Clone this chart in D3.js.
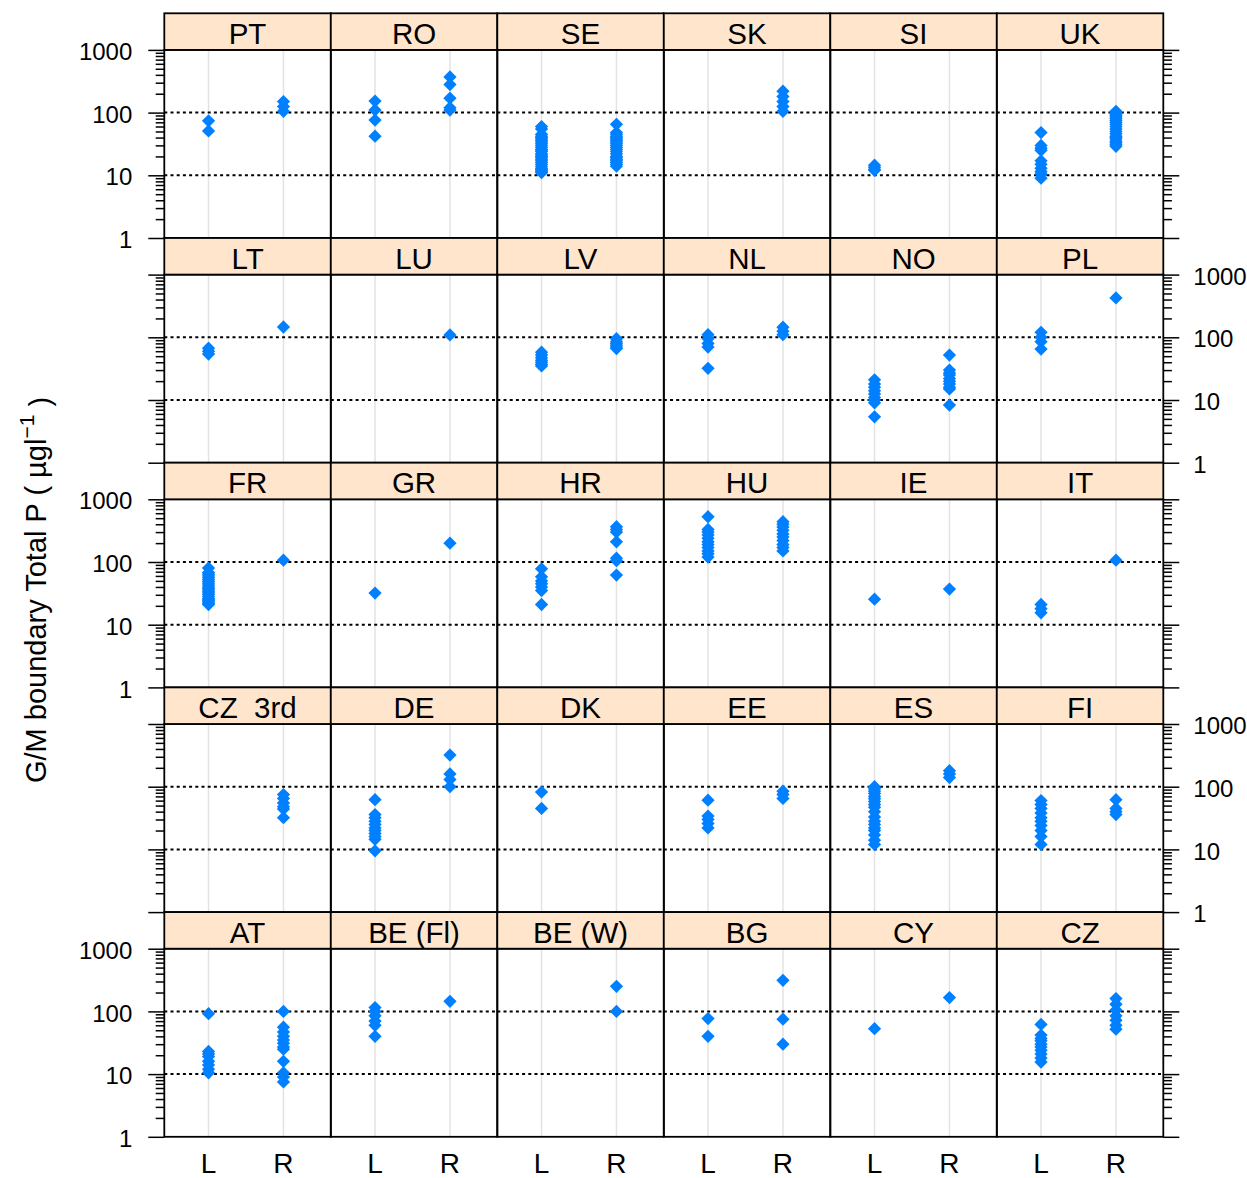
<!DOCTYPE html>
<html><head><meta charset="utf-8">
<script src="https://cdn.jsdelivr.net/npm/d3@7"></script>
<style>
body{margin:0;background:#fff;overflow:hidden}
text{font-family:"Liberation Sans", Arial, sans-serif;fill:#000}
</style>
</head><body>
<svg id="c" width="1247" height="1178"></svg>
<script>
// ---------- data ----------
const countries = ["PT","RO","SE","SK","SI","UK",
                   "LT","LU","LV","NL","NO","PL",
                   "FR","GR","HR","HU","IE","IT",
                   "CZ  3rd","DE","DK","EE","ES","FI",
                   "AT","BE (Fl)","BE (W)","BG","CY","CZ"];
const groups = ["L","R"];
const valuesL = [
  [74, 51],
  [153, 110, 76, 42],
  [60, 55, 45, 42, 40, 38, 36, 34, 32, 30, 28, 26, 25, 24, 22, 21, 20, 19, 18, 17, 16, 15, 14, 13, 12.5, 12, 11.5, 11],
  [],
  [14.5, 13.5, 12.5, 12],
  [48, 30, 27, 25, 17, 15, 13, 11.5, 10.5, 9],
  [67, 60, 54],
  [],
  [58, 52, 47, 43, 40, 37, 35],
  [110, 95, 80, 70, 32],
  [21, 18, 16, 14, 12.5, 11, 10, 9, 5.4],
  [120, 100, 85, 65],
  [80, 68, 64, 60, 56, 52, 49, 46, 43, 40, 38, 36, 34, 32, 30, 28, 26, 25, 24, 23, 22, 21],
  [32],
  [78, 58, 50, 45, 40, 35, 21],
  [527, 330, 300, 270, 240, 210, 190, 170, 150, 135, 120],
  [25.5],
  [21, 18, 15.5],
  [],
  [62, 36, 32, 28, 25, 22, 20, 18, 16, 14.5, 9.5],
  [82, 45],
  [61, 34, 30, 26, 22],
  [100, 92, 85, 78, 70, 64, 58, 52, 47, 40, 33, 28, 25, 22, 20, 17, 14, 12],
  [60, 52, 45, 38, 32, 28, 24, 20, 16, 12],
  [92, 23, 21, 19, 16, 14, 12, 10.5],
  [115, 100, 85, 70, 60, 40],
  [],
  [77, 40],
  [53],
  [62, 42, 37, 34, 30, 27, 24, 21, 18, 15.6]
];
const valuesR = [
  [150, 125, 105],
  [370, 280, 170, 120, 110],
  [65, 48, 45, 42, 40, 38, 36, 34, 32, 30, 28, 26, 24, 22, 20, 19, 18, 17, 16, 15, 14],
  [220, 180, 150, 125, 105],
  [],
  [105, 100, 95, 90, 85, 80, 75, 70, 65, 60, 55, 50, 46, 42, 40, 38, 35, 33, 31, 29],
  [146],
  [109],
  [95, 85, 80, 75, 70, 66],
  [145, 125, 110],
  [52, 30, 27, 25, 22, 20, 18, 16, 15, 8.3],
  [425],
  [107],
  [200],
  [365, 330, 300, 210, 115, 105, 62],
  [440, 400, 360, 320, 280, 250, 220, 190, 170, 150],
  [37],
  [107],
  [75, 65, 55, 48, 44, 32],
  [320, 160, 130, 100],
  [],
  [85, 75, 65],
  [180, 160, 140],
  [62, 45, 40, 36],
  [100, 56, 47, 40, 35, 31, 27, 25, 16, 10.5, 9, 7.5],
  [145],
  [251, 100],
  [313, 75, 30],
  [166],
  [160, 130, 105, 85, 72, 60, 52]
];
const yTickValues = [1, 10, 100, 1000];
const yTickLabels = ["1", "10", "100", "1000"];
const refLines = [10, 100];

// ---------- layout ----------
const nCols = 6, nRows = 5;
const x0 = 164.3, colW = 166.5;
const y0 = 13.3, rowPitch = 224.7, stripH = 36.6, panelH = rowPitch - stripH;
const ptColor = "#0080ff";

const svg = d3.select("#c");
const y = d3.scaleLog().domain([1, 1000]).range([panelH, 0]);
const x = d3.scalePoint().domain(groups).range([0, colW]).padding(0.611).align(0.483);
const minorTicks = y.ticks().filter(v => !yTickValues.includes(v));
const diamond = d3.symbol().type(d3.symbolSquare).size(88);

countries.forEach((name, i) => {
  const r = Math.floor(i / nCols), c = i % nCols;
  const px = x0 + c * colW;
  const sy = y0 + r * rowPitch;
  const py = sy + stripH;
  const g = svg.append("g").attr("transform", `translate(${px},${py})`);

  // vertical grid
  g.selectAll("line.grid").data(groups).join("line")
    .attr("x1", d => x(d)).attr("x2", d => x(d))
    .attr("y1", 0).attr("y2", panelH)
    .attr("stroke", "#e3e3e3").attr("stroke-width", 1.5);
  // reference dotted lines
  g.selectAll("line.ref").data(refLines).join("line")
    .attr("x1", 0).attr("x2", colW)
    .attr("y1", d => y(d)).attr("y2", d => y(d))
    .attr("stroke", "#000").attr("stroke-width", 2)
    .attr("stroke-dasharray", "3,3.2");
  // points
  const pts = [];
  valuesL[i].forEach(v => pts.push({g: "L", v}));
  valuesR[i].forEach(v => pts.push({g: "R", v}));
  g.selectAll("path.pt").data(pts).join("path")
    .attr("d", diamond)
    .attr("transform", d => `translate(${x(d.g)},${y(d.v)}) rotate(45)`)
    .attr("fill", ptColor);
  // border
  g.append("rect").attr("x", 0).attr("y", 0).attr("width", colW).attr("height", panelH)
    .attr("fill", "none").attr("stroke", "#000").attr("stroke-width", 1.8);

  // strip
  const s = svg.append("g").attr("transform", `translate(${px},${sy})`);
  s.append("rect").attr("width", colW).attr("height", stripH)
    .attr("fill", "#ffe5cc").attr("stroke", "#000").attr("stroke-width", 1.8);
  s.append("text").attr("x", colW / 2).attr("y", 30.5)
    .attr("text-anchor", "middle").style("font-size", "29.5px")
    .style("white-space", "pre").text(name);

  // y axes
  if (c === 0) {
    const labels = (r % 2 === 0);
    const ax = d3.axisLeft(y).tickValues(yTickValues).tickSize(16).tickPadding(16)
      .tickFormat((d, k) => labels ? yTickLabels[k] : "");
    const ag = svg.append("g").attr("transform", `translate(${px},${py})`).call(ax);
    const mg = svg.append("g").attr("transform", `translate(${px},${py})`)
      .call(d3.axisLeft(y).tickValues(minorTicks).tickSize(8.6).tickFormat(""));
    [ag, mg].forEach(a => { a.select(".domain").remove();
      a.selectAll("line").attr("stroke", "#000").attr("stroke-width", 1.5); });
    ag.selectAll("text").style("font-size", "24px").attr("dy", "0.4em")
      .style("font-family", '"Liberation Sans", Arial, sans-serif');
  }
  if (c === nCols - 1) {
    const labels = (r % 2 === 1);
    const ax = d3.axisRight(y).tickValues(yTickValues).tickSize(16).tickPadding(14)
      .tickFormat((d, k) => labels ? yTickLabels[k] : "");
    const ag = svg.append("g").attr("transform", `translate(${px + colW},${py})`).call(ax);
    const mg = svg.append("g").attr("transform", `translate(${px + colW},${py})`)
      .call(d3.axisRight(y).tickValues(minorTicks).tickSize(8.6).tickFormat(""));
    [ag, mg].forEach(a => { a.select(".domain").remove();
      a.selectAll("line").attr("stroke", "#000").attr("stroke-width", 1.5); });
    ag.selectAll("text").style("font-size", "24px").attr("dy", "0.4em")
      .style("font-family", '"Liberation Sans", Arial, sans-serif');
  }
  // x labels on bottom row
  if (r === nRows - 1) {
    svg.append("g").selectAll("text").data(groups).join("text")
      .attr("x", d => px + x(d)).attr("y", py + panelH + 36.5)
      .attr("text-anchor", "middle").style("font-size", "28px").text(d => d);
  }
});

// y axis title
const yl = svg.append("text")
  .attr("transform", `translate(46,590) rotate(-90)`)
  .attr("text-anchor", "middle").style("font-size", "29px");
yl.append("tspan").text("G/M boundary Total P ( \u00b5gl");
yl.append("tspan").attr("dy", "-0.55em").style("font-size", "21px").text("\u22121");
yl.append("tspan").attr("dy", "0.55em").text(" )");
</script>
</body></html>
